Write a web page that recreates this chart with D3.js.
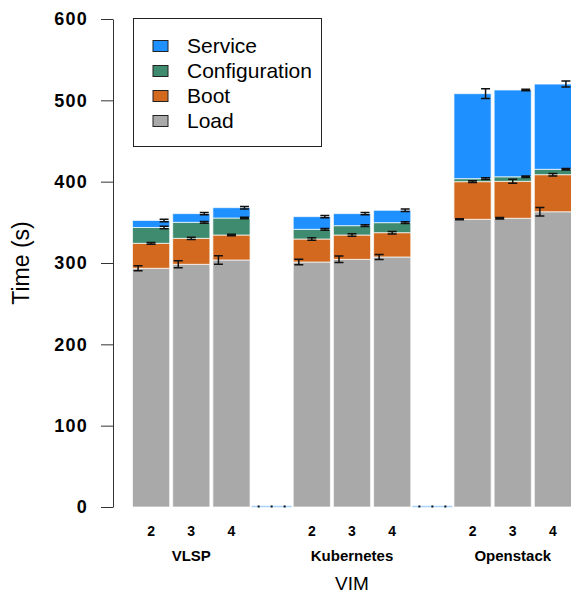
<!DOCTYPE html>
<html>
<head>
<meta charset="utf-8">
<script src="https://cdn.jsdelivr.net/npm/d3@7/dist/d3.min.js"></script>
<style>
  body { margin: 0; background: #fff; }
  svg { display: block; font-family: "Liberation Sans", Arial, sans-serif; }
</style>
</head>
<body>
<svg id="chart" width="571" height="594"></svg>
<script>
// categories
const vims = ['VLSP', 'Kubernetes', 'Openstack'];
const nodes = ['2', '3', '4'];
const yTicks = [0, 100, 200, 300, 400, 500, 600];

// series (segment heights, stacked bottom -> top), one per vim/node
const seriesNames = ['Load', 'Boot', 'Configuration', 'Service'];
const loadVals    = [293.5, 298.4, 303.7, 301.2, 304.5, 307.4, 353.7, 355.0, 363.0];
const bootVals    = [30.7, 31.9, 30.7, 28.3, 29.9, 29.9, 46.3, 45.4, 45.6];
const configVals  = [19.5, 19.7, 20.9, 11.9, 11.5, 12.3, 3.7, 5.6, 6.6];
const serviceVals = [8.6, 10.7, 12.7, 15.6, 14.8, 15.2, 104.5, 106.7, 104.8];

// error (+/-) at top of each cumulative segment
const loadErr    = [3, 4.3, 5.3, 3.3, 4, 3, 0.6, 1, 5.3];
const bootErr    = [1, 1.5, 1, 1.5, 1.5, 1.5, 1, 2.5, 1.5];
const configErr  = [1.5, 1, 1, 1, 1, 1, 1, 1, 1];
const serviceErr = [1.5, 1.5, 1.5, 1.5, 1.5, 1.5, 6, 1, 3.7];

const colors = {
  Load: '#a9a9a9',
  Boot: '#d2691e',
  Configuration: '#3f8b6f',
  Service: '#1e90ff'
};

const svg = d3.select('#chart');

const MARGINS = { top: 19, bottom: 87, left: 131, right: -2 };
const width = 571, height = 594;

// slots: 3 bars per vim, with an empty spacer between vims
const slots = [];
vims.forEach((v, vi) => {
  nodes.forEach(n => slots.push({ key: v + '-' + n, vim: v, node: n, idx: vi * 3 + nodes.indexOf(n) }));
  if (vi < vims.length - 1) slots.push({ key: 'gap-' + vi, vim: null, node: null, idx: -1 });
});

const x = d3.scaleBand()
  .domain(slots.map(s => s.key))
  .range([MARGINS.left, width - MARGINS.right])
  .padding(0);

const y = d3.scaleLinear()
  .domain([0, 600])
  .range([height - MARGINS.bottom, MARGINS.top]);

const valsBySeries = { Load: loadVals, Boot: bootVals, Configuration: configVals, Service: serviceVals };
const errBySeries = { Load: loadErr, Boot: bootErr, Configuration: configErr, Service: serviceErr };
const errPos = { Load: 0.15, Boot: 0.5, Configuration: 0.85, Service: 0.85 };

const bars = slots.filter(s => s.vim);
const barW = x.bandwidth() - 3;

// stacked segments
const segs = [];
const errs = [];
bars.forEach(b => {
  let base = 0;
  seriesNames.forEach(name => {
    const v = valsBySeries[name][b.idx];
    segs.push({ key: b.key, name, y0: base, y1: base + v });
    base += v;
    errs.push({ key: b.key, name, top: base, e: errBySeries[name][b.idx] });
  });
});

svg.append('g').attr('class', 'bars')
  .selectAll('rect')
  .data(segs)
  .join('rect')
  .attr('x', d => x(d.key) + 1.5)
  .attr('width', barW)
  .attr('y', d => y(d.y1))
  .attr('height', d => y(d.y0) - y(d.y1))
  .attr('fill', d => colors[d.name])
  .attr('stroke', '#fff')
  .attr('stroke-opacity', 0.7)
  .attr('stroke-width', 1);

// empty spacer slots: zero-height bars
const gaps = slots.filter(s => !s.vim);
svg.append('g').attr('class', 'gaps')
  .selectAll('line')
  .data(gaps)
  .join('line')
  .attr('x1', d => x(d.key))
  .attr('x2', d => x(d.key) + x.bandwidth())
  .attr('y1', y(0) - 0.5)
  .attr('y2', y(0) - 0.5)
  .attr('stroke', '#aad4ff')
  .attr('stroke-width', 1.5);

svg.append('g').attr('class', 'gap-dots')
  .selectAll('rect')
  .data(gaps.flatMap(g => [0.15, 0.5, 0.85].map(p => ({ key: g.key, p }))))
  .join('rect')
  .attr('x', d => x(d.key) + 1.5 + d.p * barW - 1)
  .attr('y', y(0) - 1.5)
  .attr('width', 2)
  .attr('height', 2)
  .attr('fill', '#111');

// error bars
const cap = 4.5;
const eg = svg.append('g').attr('class', 'errors')
  .attr('stroke', '#111').attr('stroke-width', 1.5).attr('fill', 'none');
eg.selectAll('path')
  .data(errs)
  .join('path')
  .attr('d', d => {
    const cx = x(d.key) + 1.5 + errPos[d.name] * barW;
    const yt = y(d.top + d.e), yb = y(d.top - d.e);
    return `M${cx - cap},${yt}H${cx + cap}M${cx},${yt}V${yb}M${cx - cap},${yb}H${cx + cap}`;
  });

// y axis
const yAxis = svg.append('g')
  .attr('transform', `translate(${MARGINS.left - 18},0)`)
  .call(d3.axisLeft(y).tickValues(yTicks).tickSize(12).tickSizeOuter(0).tickPadding(13));
yAxis.select('.domain').attr('stroke', '#333');
yAxis.selectAll('.tick line').attr('stroke', '#333');
yAxis.selectAll('.tick text')
  .attr('font-size', 18)
  .attr('font-weight', 'bold')
  .attr('letter-spacing', 1.2)
  .attr('fill', '#000')
  .attr('font-family', '"Liberation Sans", Arial, sans-serif');

svg.append('text')
  .attr('transform', `translate(29,${(MARGINS.top + y(0)) / 2}) rotate(-90)`)
  .attr('text-anchor', 'middle')
  .attr('font-size', 23)
  .text('Time (s)');

// x labels: node counts and vim names
svg.append('g').selectAll('text')
  .data(bars)
  .join('text')
  .attr('x', d => x(d.key) + x.bandwidth() / 2)
  .attr('y', 536)
  .attr('text-anchor', 'middle')
  .attr('font-size', 14)
  .attr('font-weight', 'bold')
  .text(d => d.node);

svg.append('g').selectAll('text')
  .data(vims)
  .join('text')
  .attr('x', v => x(v + '-3') + x.bandwidth() / 2)
  .attr('y', 561)
  .attr('text-anchor', 'middle')
  .attr('font-size', 15)
  .attr('font-weight', 'bold')
  .text(v => v);

svg.append('text')
  .attr('x', (x.range()[0] + x.range()[1]) / 2)
  .attr('y', 590)
  .attr('text-anchor', 'middle')
  .attr('font-size', 19)
  .text('VIM');

// legend
const legend = svg.append('g').attr('class', 'legend');
legend.append('rect')
  .attr('x', 133.5).attr('y', 18.5)
  .attr('width', 188).attr('height', 128)
  .attr('fill', '#fff').attr('stroke', '#222').attr('stroke-width', 1);

const legendItems = seriesNames.slice().reverse();
const li = legend.selectAll('g.item')
  .data(legendItems)
  .join('g')
  .attr('class', 'item')
  .attr('transform', (d, i) => `translate(0,${46 + i * 25})`);
li.append('rect')
  .attr('x', 153).attr('y', -5.5)
  .attr('width', 15).attr('height', 11)
  .attr('fill', d => colors[d])
  .attr('stroke', '#222').attr('stroke-width', 1);
li.append('text')
  .attr('x', 187)
  .attr('y', 7)
  .attr('font-size', 21)
  .text(d => d);
</script>
</body>
</html>
